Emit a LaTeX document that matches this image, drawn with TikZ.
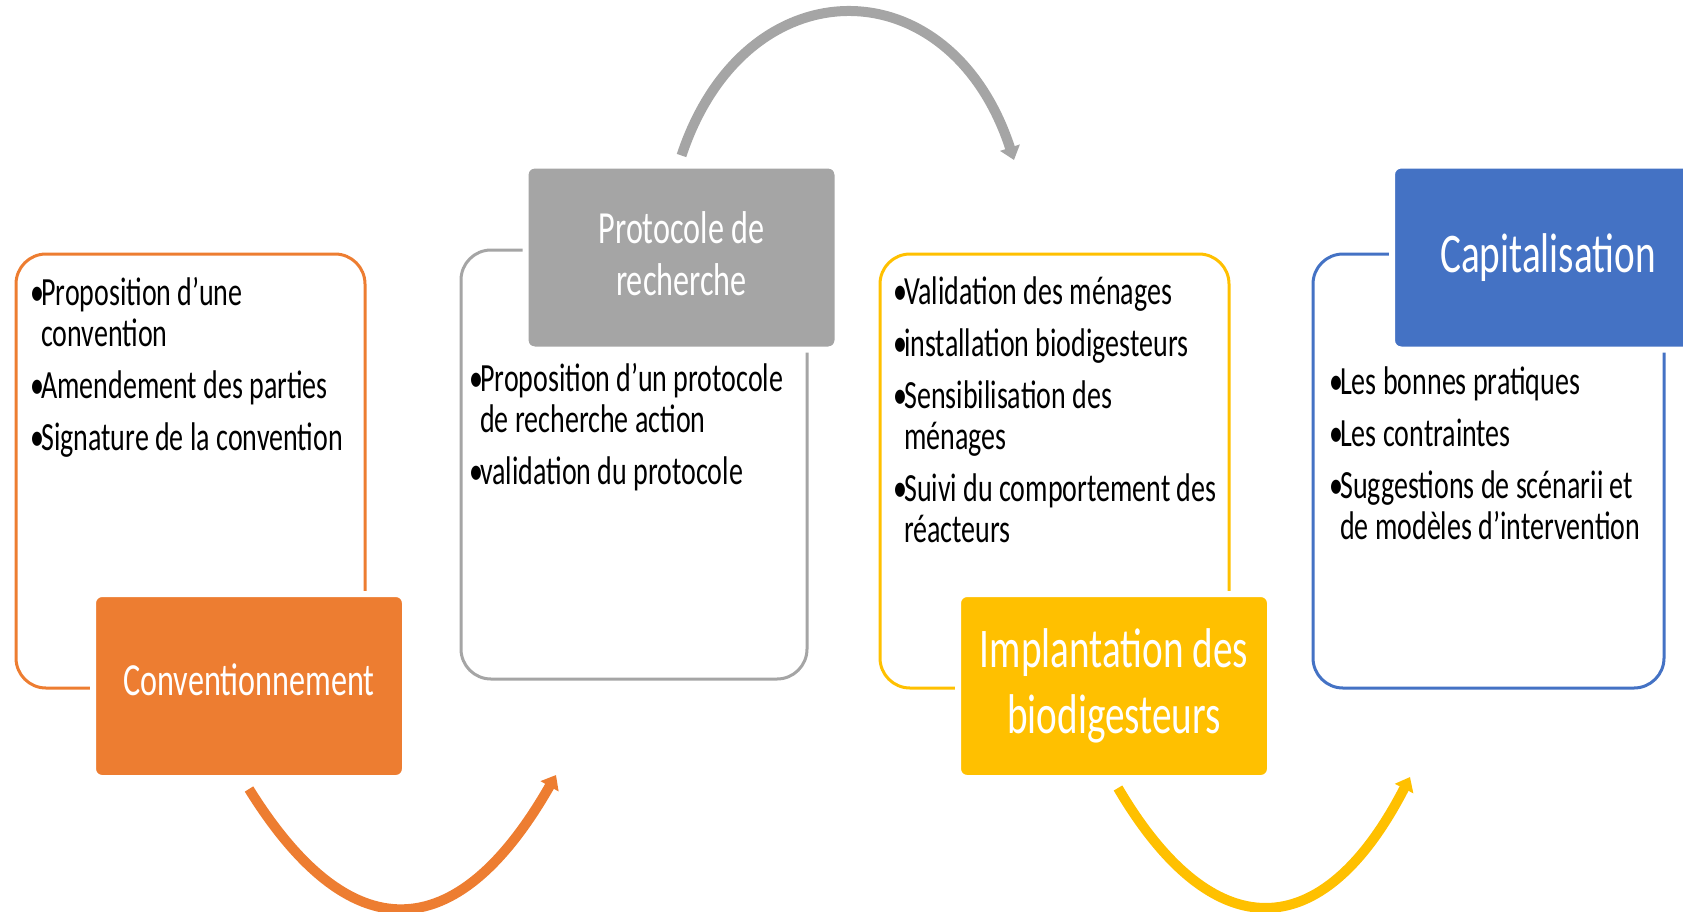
\documentclass[tikz,border=0pt]{standalone}
\usepackage{fontspec}
\setmainfont{Carlito}[FakeStretch=0.7]
\usetikzlibrary{arrows.meta}

\definecolor{convorange}{HTML}{ED7D31}
\definecolor{protogray}{HTML}{A5A5A5}
\definecolor{implyellow}{HTML}{FFC000}
\definecolor{capiblue}{HTML}{4472C4}

\newcommand{\bul}{\makebox[11pt][l]{\textbullet}}
\newcommand{\ind}{\hspace*{11pt}}
\newcommand{\lift}[2]{\raisebox{#1}[\height][\depth]{#2}}

\begin{document}
\begin{tikzpicture}[x=1pt, y=-1pt,
  panebox/.style={draw, line width=3pt, rounded corners=30pt, minimum width=349pt, minimum height=434pt},
  headbox/.style={draw=white, line width=6pt, rounded corners=9pt, text=white, align=center, minimum width=312pt, minimum height=184pt},
  itemlist/.style={anchor=north west, inner sep=0pt, align=left, font=\fontsize{40}{41}\selectfont},
  turnarrow/.style={line width=10pt, -{Triangle[length=13pt, width=20pt]}}]

  \useasboundingbox (0,0) rectangle (1683,911);

  % Outline boxes
  \node[panebox, draw=convorange] (convpane) at (190.5,471) {};
  \node[panebox, draw=protogray, minimum width=346pt, minimum height=429pt] (protopane) at (634,464.5) {};
  \node[panebox, draw=implyellow] (implpane) at (1054.5,471) {};
  \node[panebox, draw=capiblue, minimum width=351pt] (capipane) at (1488.5,471) {};

  % Headings
  \node[headbox, fill=convorange, font=\fontsize{46}{52}\selectfont] (conv) at (249,686) {\lift{6pt}{Conventionnement}};
  \node[headbox, fill=protogray, font=\fontsize{46}{52}\selectfont] (proto) at (681.5,257.5) {\lift{4pt}{Protocole de}\\\lift{4pt}{recherche}};
  \node[headbox, fill=implyellow, font=\fontsize{56}{66}\selectfont] (impl) at (1114,686) {Implantation des\\biodigesteurs};
  \node[headbox, fill=capiblue, font=\fontsize{56}{66}\selectfont] (capi) at (1548,257.5) {Capitalisation};

  % Item lists
  \node[itemlist] (convtxt) at (30,277) {\bul Proposition d'une\\ \ind convention\\[11pt]
    \bul Amendement des parties\\[11pt] \bul Signature de la convention};
  \node[itemlist] (prototxt) at (469,363) {\bul Proposition d'un protocole\\ \ind de recherche action\\[11pt]
    \bul validation du protocole};
  \node[itemlist] (impltxt) at (893,277) {\bul Validation des ménages\\[11pt] \bul installation biodigesteurs\\[11pt]
    \bul Sensibilisation des\\ \ind ménages\\[11pt] \bul Suivi du comportement des\\ \ind réacteurs};
  \node[itemlist] (capitxt) at (1329,367) {\bul Les bonnes pratiques\\[11pt] \bul Les contraintes\\[11pt]
    \bul Suggestions de scénarii et\\ \ind de modèles d'intervention};

  % Arrow ends
  \coordinate (convend) at (556,775);
  \coordinate (protoend) at (1014,160);
  \coordinate (implend) at (1410,777);

  % Turning arrows
  \draw[turnarrow, convorange] ([yshift=-8pt]conv.south) .. controls (349,950) and (456,950) .. (convend);
  \draw[turnarrow, protogray] ([yshift=7pt]proto.north) .. controls (745,-36) and (950,-36) .. (protoend);
  \draw[turnarrow, implyellow] ([xshift=4pt, yshift=-7pt]impl.south) .. controls (1212,948) and (1322,948) .. (implend);

\end{tikzpicture}
\end{document}
